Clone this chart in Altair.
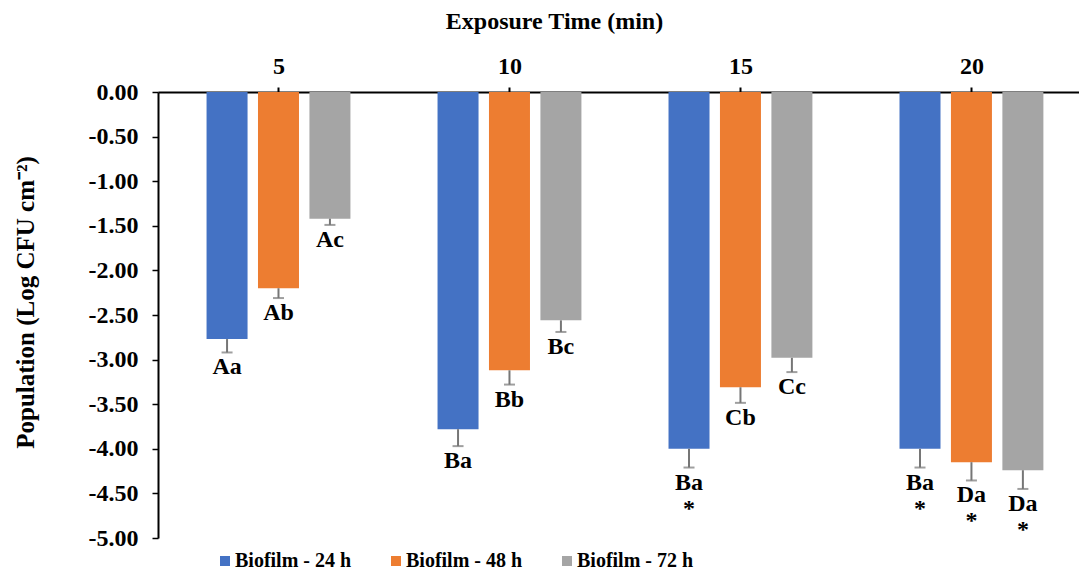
import json
import altair as alt
import pandas as pd

times = ["5", "10", "15", "20"]
series = ["Biofilm - 24 h", "Biofilm - 48 h", "Biofilm - 72 h"]
colors = ["#4472C4", "#ED7D31", "#A5A5A5"]

mean_24 = [-2.77, -3.78, -4.00, -4.00]
mean_48 = [-2.20, -3.12, -3.31, -4.15]
mean_72 = [-1.42, -2.56, -2.98, -4.24]

err_24 = [0.15, 0.19, 0.21, 0.21]
err_48 = [0.11, 0.16, 0.175, 0.205]
err_72 = [0.07, 0.13, 0.16, 0.21]

lab_24 = ["Aa", "Ba", "Ba\n*", "Ba\n*"]
lab_48 = ["Ab", "Bb", "Cb", "Da\n*"]
lab_72 = ["Ac", "Bc", "Cc", "Da\n*"]

means = [mean_24, mean_48, mean_72]
errs = [err_24, err_48, err_72]
labs = [lab_24, lab_48, lab_72]

rows = []
for ti, t in enumerate(times):
    for si, s in enumerate(series):
        rows.append(dict(time=t, ti=ti, series=s, si=si,
                         mean=means[si][ti], err=errs[si][ti], label=labs[si][ti]))
df = pd.DataFrame(rows)

FONT = "Liberation Serif"

base = alt.Chart(df).transform_calculate(
    pos="datum.ti + (datum.si - 1) * 0.2227",
    low="datum.mean - datum.err",
)

x_enc = alt.X(
    "pos:Q",
    scale=alt.Scale(domain=[-0.5, 3.444], nice=False, zero=False),
    axis=alt.Axis(
        orient="top",
        values=[0, 1, 2, 3],
        labelExpr=json.dumps(times) + "[datum.value]",
        title="Exposure Time (min)",
        titleFont=FONT, titleFontSize=24, titleFontWeight="bold", titleColor="black",
        titleX=396, titleY=-64, titleBaseline="alphabetic", titleAnchor="start", titleAlign="center",
        labelFont=FONT, labelFontSize=24, labelFontWeight="bold", labelColor="black",
        labelBaseline="alphabetic", labelPadding=14,
        tickSize=5, tickColor="black", tickWidth=2,
        domainColor="black", domainWidth=2,
        grid=False,
    ),
)

y_enc = alt.Y(
    "mean:Q",
    scale=alt.Scale(domain=[-5, 0], nice=False),
    axis=alt.Axis(
        values=[-5, -4.5, -4, -3.5, -3, -2.5, -2, -1.5, -1, -0.5, 0],
        labelExpr="replace(format(datum.value, '.2f'), '\u2212', '-')",
        title="Population (Log CFU cm\u207b\u00b2)",
        titleFont=FONT, titleFontSize=25, titleFontWeight="bold", titleColor="black",
        titleX=-133, titleY=210, titleBaseline="middle", titleAngle=-90,
        labelFont=FONT, labelFontSize=24, labelFontWeight="bold", labelColor="black",
        labelPadding=14,
        tickSize=6, tickColor="black", tickWidth=1.5,
        domainColor="black", domainWidth=2,
        grid=False,
    ),
)

bars = base.mark_bar(width=41).encode(
    x=x_enc,
    y=y_enc,
    color=alt.Color(
        "series:N",
        scale=alt.Scale(domain=series, range=colors),
        legend=alt.Legend(
            title=None, orient="none", legendX=57, legendY=459,
            direction="horizontal", symbolType="square", symbolSize=100,
            symbolStrokeWidth=0, labelFont=FONT, labelFontSize=20,
            labelFontWeight="bold", labelColor="black", columnPadding=34,
            labelOffset=0, padding=0,
        ),
    ),
)

rules = base.mark_rule(color="#767676", strokeWidth=2).encode(
    x=x_enc, y=alt.Y("mean:Q"), y2="low:Q"
)

caps = base.mark_tick(orient="horizontal", size=11, thickness=2, color="#767676").encode(
    x=x_enc, y=alt.Y("low:Q")
)

texts = base.mark_text(
    font=FONT, fontSize=24, fontWeight="bold", color="black",
    baseline="alphabetic", dy=22, lineBreak="\n", lineHeight=26,
).encode(x=x_enc, y=alt.Y("low:Q"), text="label:N")

chart = alt.layer(bars, rules, caps, texts).properties(
    width=921,
    height=446,
    padding={"left": 150, "top": 84, "right": 0, "bottom": 32},
    autosize=alt.AutoSizeParams(type="none"),
).configure_view(stroke=None)

chart.save("out.html", embed_options={"renderer": "svg", "actions": False})
